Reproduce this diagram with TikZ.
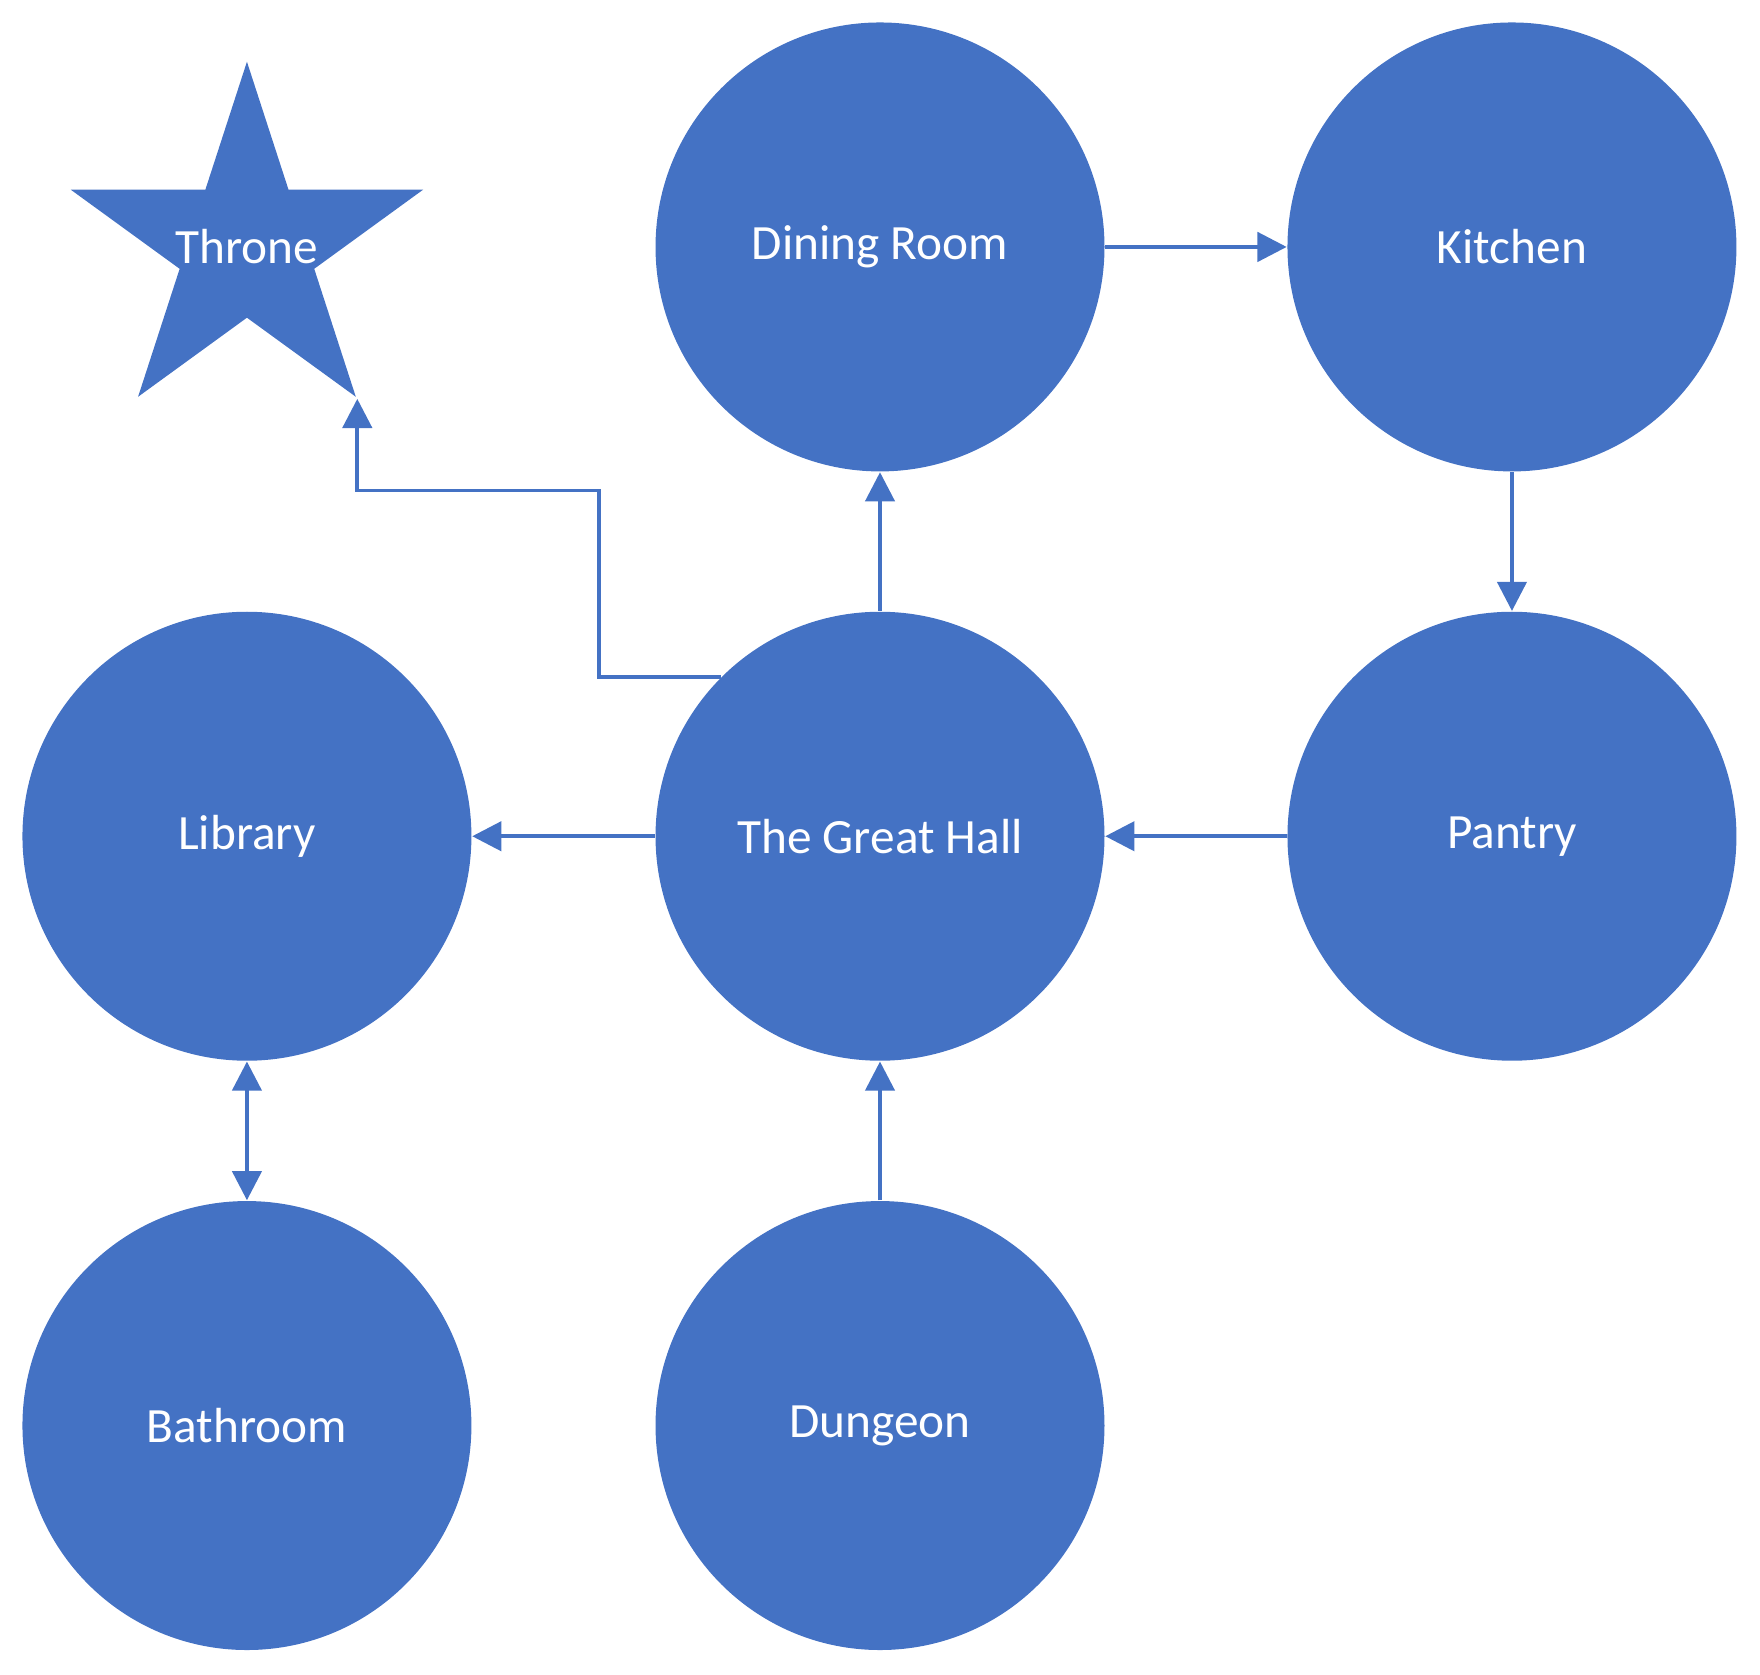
\documentclass[tikz,border=0pt]{standalone}
\usepackage{fontspec}
\setmainfont{Carlito}
\usetikzlibrary{arrows.meta,shapes.geometric}
\definecolor{roomblue}{RGB}{68,114,196}

\begin{document}
\begin{tikzpicture}[>={Triangle[length=2.6mm,width=2.6mm]},
    room/.style={circle,fill=roomblue,minimum size=4cm,inner sep=0pt,text=white,font=\fontsize{12.5}{15}\selectfont},
    link/.style={draw=roomblue,line width=1pt,->}]
\useasboundingbox (0,0) rectangle (15.68,-14.92);
\node[star,star points=5,star point ratio=2.618,minimum size=3.3cm,inner sep=0pt,fill=roomblue,
    label={[text=white,font=\fontsize{12.5}{15}\selectfont]center:Throne}] (throne) at (2.2,-2.2) {};
\foreach \name/\x/\y/\txt in {dining/7.84/-2.2/Dining Room, kitchen/13.47/-2.2/Kitchen,
    library/2.2/-7.45/Library, hall/7.84/-7.45/The Great Hall, pantry/13.47/-7.45/Pantry,
    bathroom/2.2/-12.7/Bathroom, dungeon/7.84/-12.7/Dungeon} {
    \node[room] (\name) at (\x,\y) {\txt};
}

\draw[link] (dining) -- (kitchen);
\draw[link] (kitchen) -- (pantry);
\draw[link] (pantry) -- (hall);
\draw[link] (hall) -- (library);
\draw[link] (hall) -- (dining);
\draw[link] (dungeon) -- (hall);
\draw[link,<->] (library) -- (bathroom);
\coordinate (bend) at (5.34,-4.37);
\draw[link] (hall.north west) -| (bend) -| (throne.outer point 4);
\end{tikzpicture}
\end{document}
